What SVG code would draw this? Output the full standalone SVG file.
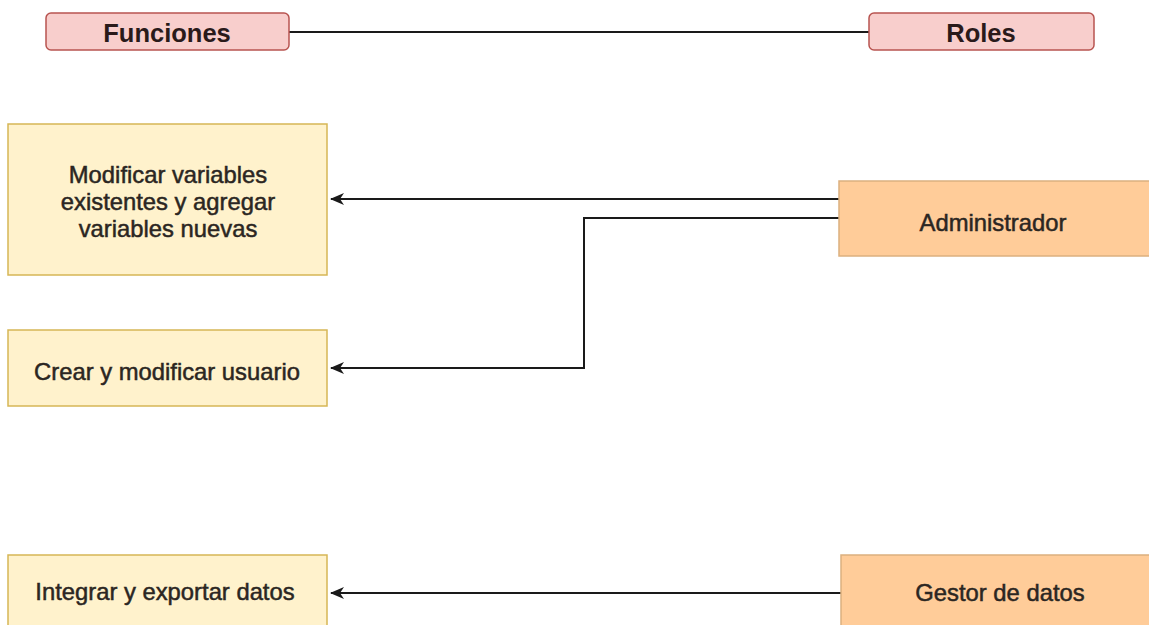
<svg xmlns="http://www.w3.org/2000/svg" width="1149" height="625" viewBox="0 0 1149 625">
  <style>
    .hdr rect { fill: #f8cecc; stroke: #b85450; stroke-width: 1.5; }
    .fn rect { fill: #fff2cc; stroke: #d6b656; stroke-width: 1.5; }
    .role rect { fill: #ffcc99; stroke: #dcb07f; stroke-width: 1.5; }
    text { font-family: "Liberation Sans", Arial, sans-serif; fill: #2b2622; text-anchor: middle; }
    .hdr text { font-size: 25.5px; font-weight: bold; fill: #2a1a1a; }
    .lbl { font-size: 23.8px; stroke: #2b2622; stroke-width: 0.5; }
    .edge { fill: none; stroke: #1a1a1a; stroke-width: 2; }
  </style>
  <defs>
    <marker id="arrow" viewBox="0 0 14 12" refX="13" refY="6" markerWidth="14" markerHeight="12" markerUnits="userSpaceOnUse" orient="auto">
      <path d="M0,0 L14,6 L0,12 L4,6 Z" fill="#1a1a1a"/>
    </marker>
  </defs>
  <rect width="1149" height="625" fill="#ffffff"/>

  <!-- connectors -->
  <g id="connectors">
    <path class="edge" d="M289,32 H869"/>
    <path class="edge" d="M839,199 H331" marker-end="url(#arrow)"/>
    <path class="edge" d="M839,218 H584 V368 H331" marker-end="url(#arrow)"/>
    <path class="edge" d="M841,593 H331" marker-end="url(#arrow)"/>
  </g>

  <!-- column headers -->
  <g id="funciones" class="hdr">
    <rect x="46" y="13" width="243" height="37" rx="5"/>
    <text x="167" y="42">Funciones</text>
  </g>
  <g id="roles" class="hdr">
    <rect x="869" y="13" width="225" height="37" rx="5"/>
    <text x="981" y="42">Roles</text>
  </g>

  <!-- functions -->
  <g id="modificar-variables" class="fn">
    <rect x="8" y="124" width="319" height="151"/>
    <text class="lbl" x="168" y="183">Modificar variables</text>
    <text class="lbl" x="168" y="210">existentes y agregar</text>
    <text class="lbl" x="168" y="237">variables nuevas</text>
  </g>
  <g id="crear-usuario" class="fn">
    <rect x="8" y="330" width="319" height="76"/>
    <text class="lbl" x="167" y="380">Crear y modificar usuario</text>
  </g>
  <g id="integrar-exportar" class="fn">
    <rect x="8" y="555" width="319" height="80"/>
    <text class="lbl" x="165" y="600">Integrar y exportar datos</text>
  </g>

  <!-- roles -->
  <g id="administrador" class="role">
    <rect x="839" y="181" width="320" height="75"/>
    <text class="lbl" x="993" y="231">Administrador</text>
  </g>
  <g id="gestor-datos" class="role">
    <rect x="841" y="555" width="320" height="80"/>
    <text class="lbl" x="1000" y="601">Gestor de datos</text>
  </g>
</svg>
